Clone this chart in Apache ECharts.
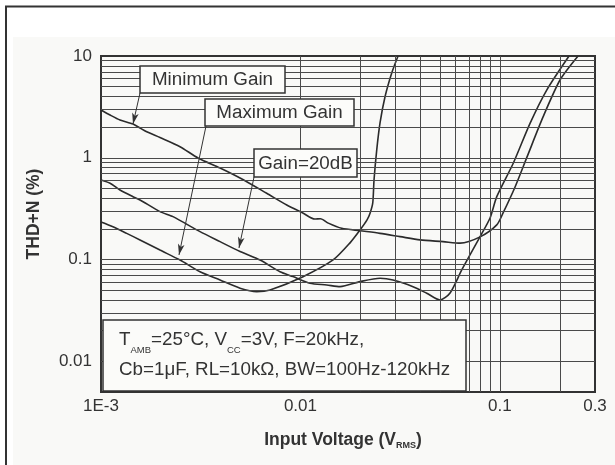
<!DOCTYPE html>
<html>
<head>
<meta charset="utf-8">
<script src="https://cdn.jsdelivr.net/npm/echarts@6/dist/echarts.min.js"></script>
<style>
  html, body { margin: 0; padding: 0; background: #ffffff; }
  #chart { width: 615px; height: 465px; }
</style>
</head>
<body>
<div id="chart"></div>
<script>
// THD+N (%) versus input voltage (V RMS), one curve per gain setting
const minGainX = [0.001, 0.00111, 0.001245, 0.001447, 0.001569, 0.001695, 0.001976, 0.00249, 0.003066, 0.003953,
  0.004979, 0.006776, 0.00854, 0.01034, 0.0118, 0.0126, 0.0138, 0.0161, 0.0199, 0.02507, 0.0316, 0.0398, 0.0519,
  0.0632, 0.0796, 0.0965, 0.1038, 0.1192, 0.1369, 0.1647, 0.2003, 0.2467];
const minGainY = [2.95, 2.63, 2.35, 2.15, 1.96, 1.80, 1.58, 1.285, 0.995, 0.794,
  0.633, 0.448, 0.344, 0.285, 0.250, 0.252, 0.228, 0.203, 0.192, 0.181, 0.168, 0.156, 0.150,
  0.145, 0.167, 0.219, 0.287, 0.516, 1.02, 2.52, 5.81, 10];

const gain20X = [0.001, 0.00111, 0.001245, 0.001447, 0.001569, 0.001976, 0.002297, 0.003137, 0.003953, 0.004979,
  0.006272, 0.0079, 0.00918, 0.01117, 0.01355, 0.0158, 0.0199, 0.02507, 0.02913, 0.0367, 0.04298, 0.0501,
  0.05628, 0.0644, 0.0796, 0.0893, 0.0965, 0.1169, 0.1417, 0.1718, 0.2223];
const gain20Y = [0.605, 0.562, 0.483, 0.415, 0.385, 0.296, 0.264, 0.188, 0.150, 0.120,
  0.099, 0.076, 0.068, 0.0585, 0.0563, 0.0542, 0.0607, 0.0655, 0.063, 0.0542, 0.0467, 0.0401,
  0.047, 0.079, 0.168, 0.256, 0.415, 0.889, 2.18, 4.63, 10];

const maxGainX = [0.001, 0.001148, 0.001345, 0.001569, 0.001976, 0.00249, 0.003137, 0.003953, 0.004979, 0.00604,
  0.00704, 0.0103, 0.01458, 0.01773, 0.0199, 0.02158, 0.02234, 0.02305, 0.02339, 0.02413, 0.02507, 0.02656,
  0.0287, 0.03087];
const maxGainY = [0.234, 0.210, 0.181, 0.156, 0.124, 0.099, 0.076, 0.063, 0.0523, 0.0484,
  0.0503, 0.0679, 0.0991, 0.146, 0.195, 0.245, 0.285, 0.36, 0.605, 1.19, 2.20, 3.98,
  6.81, 10];

// axis ticks and their labels
const xTickValues = [0.001, 0.01, 0.1, 0.3];
const xTickLabels = ['1E-3', '0.01', '0.1', '0.3'];
const yTickValues = [0.01, 0.1, 1, 10];
const yTickLabels = ['0.01', '0.1', '1', '10'];

// leader arrows: tail and head of each, in data units
const arrowTail = [[0.001569, 4.33], [0.003362, 2.054], [0.005853, 0.6475]];
const arrowHead = [[0.001447, 2.15], [0.002461, 0.111], [0.00492, 0.13]];

const FONT = '"Liberation Sans", Arial, Helvetica, sans-serif';
const INK = '#333333';

function pairs(xs, ys) {
  return xs.map((x, i) => [x, ys[i]]);
}

function tickLabel(values, labels) {
  return function (v) {
    for (let i = 0; i < values.length; i++) {
      if (Math.abs(Math.log10(v) - Math.log10(values[i])) < 0.01) return labels[i];
    }
    return '';
  };
}

// log-paper rulings: 1..9 in every decade, inside the range
function logRulings(lo, hi) {
  const out = [];
  for (let e = Math.floor(Math.log10(lo)); Math.pow(10, e) <= hi; e++) {
    for (let m = 1; m <= 9; m++) {
      const v = +(m * Math.pow(10, e)).toPrecision(3);
      if (v > lo * 1.0001 && v < hi * 0.9999) out.push(v);
    }
  }
  return out;
}

const X_MIN = 0.001, X_MAX = 0.3, Y_MIN = 0.005, Y_MAX = 10;

const rulings = logRulings(X_MIN, X_MAX).map(v => ({ xAxis: v }))
  .concat(logRulings(Y_MIN, Y_MAX).map(v => ({ yAxis: v })));

const curveStyle = { color: '#2b2b2b', width: 1.6 };

function curve(name, xs, ys) {
  return {
    name: name,
    type: 'line',
    data: pairs(xs, ys),
    showSymbol: false,
    smooth: 0.25,
    lineStyle: curveStyle,
    z: 3,
    silent: true
  };
}

function labelBox(x, y, w, h, text) {
  return [
    { type: 'rect', z: 100, shape: { x: x, y: y, width: w, height: h },
      style: { fill: '#fcfcfa', stroke: INK, lineWidth: 1.5 } },
    { type: 'text', z: 101, x: x + w / 2, y: y + h / 2 + 0.5,
      style: { text: text, font: '18.8px ' + FONT, fill: INK,
        align: 'center', verticalAlign: 'middle', textAlign: 'center', textVerticalAlign: 'middle' } }
  ];
}

const chart = echarts.init(document.getElementById('chart'), null, { renderer: 'canvas' });

chart.setOption({
  animation: false,
  backgroundColor: '#f9f9f7',
  grid: {
    left: 101, top: 56, right: 20, bottom: 73,
    show: true, borderColor: INK, borderWidth: 2, backgroundColor: 'transparent'
  },
  xAxis: {
    type: 'log', logBase: 10, min: X_MIN, max: X_MAX,
    axisLine: { show: false },
    axisTick: { show: true, inside: true, length: 5, lineStyle: { color: INK } },
    splitLine: { show: false },
    axisLabel: {
      formatter: tickLabel(xTickValues, xTickLabels),
      showMinLabel: true, showMaxLabel: true,
      color: INK, fontSize: 17, fontFamily: FONT, margin: 6
    }
  },
  yAxis: {
    type: 'log', logBase: 10, min: Y_MIN, max: Y_MAX,
    axisLine: { show: false },
    axisTick: { show: true, inside: true, length: 5, lineStyle: { color: INK } },
    splitLine: { show: false },
    axisLabel: {
      formatter: tickLabel(yTickValues, yTickLabels),
      showMinLabel: true, showMaxLabel: true,
      color: INK, fontSize: 17, fontFamily: FONT, margin: 9
    }
  },
  series: [
    {
      name: 'rulings', type: 'line', data: [], z: 1, silent: true,
      markLine: {
        silent: true, animation: false, symbol: 'none',
        label: { show: false },
        lineStyle: { type: 'solid', color: '#4a4a4a', width: 1 },
        emphasis: { disabled: true },
        data: rulings
      }
    },
    curve('Minimum Gain', minGainX, minGainY),
    curve('Gain=20dB', gain20X, gain20Y),
    curve('Maximum Gain', maxGainX, maxGainY),
    {
      name: 'leaders', type: 'line', data: [], z: 4, silent: true,
      markLine: {
        silent: true, animation: false,
        label: { show: false },
        lineStyle: { type: 'solid', color: INK, width: 1 },
        emphasis: { disabled: true },
        data: arrowTail.map((t, i) => [
          { coord: t, symbol: 'none' },
          { coord: arrowHead[i], symbol: 'arrow', symbolSize: [5, 11] }
        ])
      }
    }
  ],
  graphic: [
    // white margin outside the sheet and the sheet frame
    { type: 'rect', z: -5, silent: true, shape: { x: 0, y: 0, width: 615, height: 37 }, style: { fill: '#ffffff' } },
    { type: 'rect', z: -5, silent: true, shape: { x: 0, y: 0, width: 13, height: 465 }, style: { fill: '#ffffff' } },
    { type: 'polyline', z: -4, silent: true, shape: { points: [[6, 465], [6, 6.5], [615, 6.5]] },
      style: { stroke: INK, lineWidth: 2, fill: null } },

    ...labelBox(140, 66, 145, 27, 'Minimum Gain'),
    ...labelBox(205, 99, 149, 27, 'Maximum Gain'),
    ...labelBox(254, 149, 103, 28, 'Gain=20dB'),

    // test conditions
    { type: 'rect', z: 100, shape: { x: 103, y: 320, width: 363, height: 71 },
      style: { fill: '#fbfbf9', stroke: INK, lineWidth: 1.5 } },
    { type: 'text', z: 101, x: 119, y: 325,
      style: {
        text: '{t|T}{s|AMB}{t|=25°C, V}{s|CC}{t|=3V, F=20kHz,}\n{t|Cb=1μF, RL=10kΩ, BW=100Hz-120kHz}',
        fill: INK, align: 'left', verticalAlign: 'top', textAlign: 'left', textVerticalAlign: 'top',
        rich: {
          t: { fontSize: 18.8, fontFamily: FONT, lineHeight: 30, fill: INK },
          s: { fontSize: 9.5, fontFamily: FONT, lineHeight: 7, verticalAlign: 'bottom', fill: INK }
        }
      } },

    // axis titles
    { type: 'text', z: 101, x: 343, y: 440,
      style: {
        text: '{b|Input Voltage (V}{s|RMS}{b|)}',
        fill: INK, align: 'center', verticalAlign: 'middle', textAlign: 'center', textVerticalAlign: 'middle',
        rich: {
          b: { fontSize: 17.5, fontWeight: 'bold', fontFamily: FONT, lineHeight: 20, fill: INK },
          s: { fontSize: 9, fontWeight: 'bold', fontFamily: FONT, lineHeight: 4, verticalAlign: 'bottom', fill: INK }
        }
      } },
    { type: 'text', z: 101, x: 34, y: 214, rotation: Math.PI / 2,
      style: {
        text: 'THD+N (%)', font: 'bold 17.5px ' + FONT, fill: INK,
        align: 'center', verticalAlign: 'middle', textAlign: 'center', textVerticalAlign: 'middle'
      } }
  ]
});
</script>
</body>
</html>
